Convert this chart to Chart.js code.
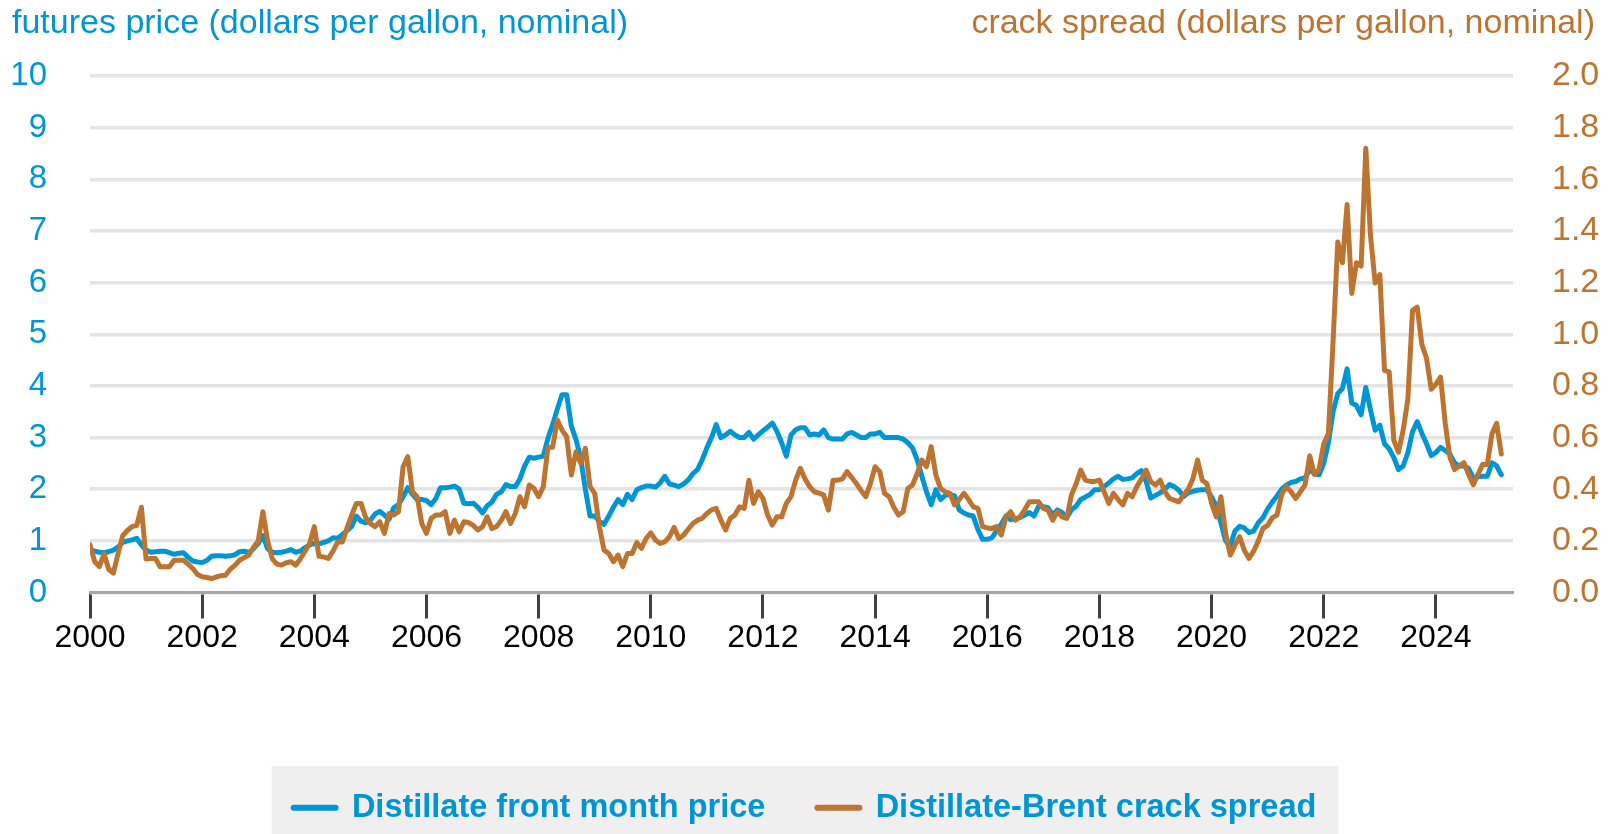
<!DOCTYPE html>
<html>
<head>
<meta charset="utf-8">
<title>Distillate price and crack spread</title>
<script src="https://cdn.jsdelivr.net/npm/chart.js@4.4.1/dist/chart.umd.min.js"></script>
<style>
  html, body { margin: 0; padding: 0; background: #fff; }
  #wrap { width: 1619px; height: 834px; }
</style>
</head>
<body>
<div id="wrap"><canvas id="chart" width="1619" height="834"></canvas></div>
<script>
// monthly values, Jan 2000 .. Mar 2025
const firstYear = 2000;

const frontMonthPrice = [
    0.83, 0.80, 0.78, 0.77, 0.79, 0.82, 0.88, 0.97, 1.00, 1.02, 1.05, 0.92, // 2000
    0.82, 0.78, 0.79, 0.80, 0.80, 0.77, 0.74, 0.76, 0.77, 0.68, 0.61, 0.59, // 2001
    0.58, 0.62, 0.70, 0.71, 0.71, 0.70, 0.71, 0.73, 0.79, 0.80, 0.77, 0.85, // 2002
    0.95, 1.10, 0.85, 0.78, 0.77, 0.78, 0.80, 0.83, 0.78, 0.80, 0.87, 0.92, // 2003
    0.95, 0.94, 0.97, 1.00, 1.06, 1.05, 1.12, 1.20, 1.28, 1.48, 1.38, 1.35, // 2004
    1.40, 1.52, 1.57, 1.50, 1.42, 1.64, 1.70, 1.85, 2.03, 1.90, 1.80, 1.80, // 2005
    1.78, 1.70, 1.82, 2.03, 2.03, 2.04, 2.06, 2.00, 1.73, 1.72, 1.73, 1.65, // 2006
    1.54, 1.68, 1.75, 1.90, 1.95, 2.09, 2.05, 2.05, 2.20, 2.45, 2.62, 2.60, // 2007
    2.62, 2.64, 2.99, 3.25, 3.55, 3.83, 3.83, 3.22, 2.96, 2.60, 2.00, 1.48, // 2008
    1.48, 1.38, 1.32, 1.48, 1.65, 1.80, 1.70, 1.90, 1.80, 1.99, 2.03, 2.06, // 2009
    2.06, 2.04, 2.12, 2.25, 2.10, 2.08, 2.05, 2.10, 2.18, 2.30, 2.38, 2.57, // 2010
    2.80, 3.00, 3.25, 3.00, 3.05, 3.12, 3.05, 3.00, 3.00, 3.10, 2.97, 3.05, // 2011
    3.13, 3.20, 3.28, 3.12, 2.90, 2.64, 3.05, 3.15, 3.19, 3.19, 3.05, 3.07, // 2012
    3.05, 3.15, 3.00, 2.97, 2.97, 2.97, 3.07, 3.10, 3.05, 3.00, 3.00, 3.07, // 2013
    3.07, 3.10, 3.00, 3.00, 3.00, 3.00, 2.97, 2.90, 2.80, 2.57, 2.25, 1.95, // 2014
    1.70, 1.99, 1.80, 1.88, 1.90, 1.87, 1.60, 1.54, 1.50, 1.48, 1.22, 1.03, // 2015
    1.03, 1.06, 1.20, 1.32, 1.48, 1.41, 1.43, 1.45, 1.50, 1.55, 1.48, 1.67, // 2016
    1.66, 1.64, 1.50, 1.60, 1.55, 1.45, 1.60, 1.67, 1.80, 1.85, 1.90, 1.99, // 2017
    1.99, 2.05, 2.12, 2.20, 2.25, 2.19, 2.20, 2.22, 2.30, 2.36, 2.15, 1.83, // 2018
    1.88, 1.93, 2.00, 2.09, 2.05, 1.98, 1.86, 1.93, 1.96, 1.98, 1.99, 1.99, // 2019
    1.85, 1.67, 1.35, 1.00, 0.90, 1.19, 1.28, 1.25, 1.16, 1.19, 1.35, 1.45, // 2020
    1.62, 1.75, 1.87, 2.00, 2.08, 2.13, 2.15, 2.20, 2.22, 2.38, 2.30, 2.28, // 2021
    2.50, 2.90, 3.50, 3.85, 3.95, 4.33, 3.67, 3.62, 3.44, 3.97, 3.54, 3.14, // 2022
    3.24, 2.88, 2.78, 2.61, 2.38, 2.45, 2.71, 3.11, 3.31, 3.08, 2.88, 2.65, // 2023
    2.71, 2.81, 2.75, 2.68, 2.51, 2.45, 2.45, 2.40, 2.22, 2.24, 2.25, 2.25, // 2024
    2.51, 2.45, 2.28                                                        // 2025
];

const crackSpread = [
    0.185, 0.120, 0.100, 0.150, 0.090, 0.075, 0.150, 0.220, 0.240, 0.255, 0.260, 0.330, // 2000
    0.130, 0.132, 0.132, 0.100, 0.100, 0.100, 0.125, 0.125, 0.125, 0.110, 0.093, 0.070, // 2001
    0.061, 0.058, 0.054, 0.060, 0.065, 0.067, 0.090, 0.105, 0.125, 0.135, 0.145, 0.175, // 2002
    0.200, 0.313, 0.200, 0.130, 0.110, 0.106, 0.115, 0.119, 0.106, 0.130, 0.160, 0.190, // 2003
    0.255, 0.140, 0.138, 0.132, 0.160, 0.196, 0.196, 0.250, 0.300, 0.345, 0.345, 0.290, // 2004
    0.267, 0.255, 0.274, 0.229, 0.306, 0.300, 0.313, 0.487, 0.526, 0.390, 0.371, 0.267, // 2005
    0.229, 0.287, 0.300, 0.300, 0.313, 0.229, 0.280, 0.235, 0.274, 0.271, 0.260, 0.242, // 2006
    0.255, 0.293, 0.248, 0.255, 0.280, 0.313, 0.267, 0.306, 0.371, 0.332, 0.416, 0.403, // 2007
    0.371, 0.410, 0.562, 0.562, 0.668, 0.629, 0.603, 0.455, 0.545, 0.500, 0.558, 0.410, // 2008
    0.384, 0.255, 0.164, 0.151, 0.119, 0.145, 0.100, 0.151, 0.151, 0.193, 0.171, 0.209, // 2009
    0.231, 0.203, 0.190, 0.196, 0.216, 0.252, 0.209, 0.222, 0.245, 0.267, 0.280, 0.287, // 2010
    0.306, 0.320, 0.326, 0.280, 0.242, 0.287, 0.300, 0.332, 0.326, 0.435, 0.345, 0.390, // 2011
    0.364, 0.300, 0.261, 0.293, 0.293, 0.345, 0.371, 0.435, 0.481, 0.440, 0.410, 0.390, // 2012
    0.385, 0.377, 0.319, 0.435, 0.435, 0.440, 0.468, 0.445, 0.422, 0.395, 0.371, 0.422, // 2013
    0.487, 0.468, 0.384, 0.371, 0.330, 0.300, 0.313, 0.403, 0.416, 0.460, 0.513, 0.487, // 2014
    0.565, 0.455, 0.403, 0.390, 0.384, 0.339, 0.360, 0.384, 0.360, 0.332, 0.326, 0.255, // 2015
    0.250, 0.248, 0.255, 0.222, 0.293, 0.313, 0.280, 0.293, 0.320, 0.351, 0.351, 0.351, // 2016
    0.326, 0.319, 0.280, 0.313, 0.293, 0.287, 0.377, 0.420, 0.474, 0.435, 0.430, 0.430, // 2017
    0.435, 0.390, 0.345, 0.384, 0.360, 0.339, 0.384, 0.371, 0.410, 0.440, 0.474, 0.429, // 2018
    0.416, 0.435, 0.390, 0.364, 0.358, 0.351, 0.377, 0.400, 0.440, 0.513, 0.435, 0.422, // 2019
    0.345, 0.293, 0.371, 0.229, 0.145, 0.183, 0.216, 0.164, 0.132, 0.160, 0.200, 0.248, // 2020
    0.260, 0.290, 0.300, 0.380, 0.410, 0.390, 0.364, 0.390, 0.417, 0.529, 0.457, 0.476, // 2021
    0.576, 0.615, 0.973, 1.357, 1.277, 1.502, 1.158, 1.277, 1.264, 1.720, 1.383, 1.198, // 2022
    1.231, 0.860, 0.854, 0.589, 0.543, 0.629, 0.748, 1.092, 1.105, 0.960, 0.907, 0.787, // 2023
    0.807, 0.834, 0.655, 0.523, 0.476, 0.490, 0.503, 0.457, 0.417, 0.457, 0.496, 0.496, // 2024
    0.615, 0.655, 0.536                                                                  // 2025
];

const xTickYears = [2000, 2002, 2004, 2006, 2008, 2010, 2012, 2014, 2016, 2018, 2020, 2022, 2024];
const priceTicks = [0, 1, 2, 3, 4, 5, 6, 7, 8, 9, 10];
const spreadTicks = [0, 0.2, 0.4, 0.6, 0.8, 1.0, 1.2, 1.4, 1.6, 1.8, 2.0];

const leftTitle = 'futures price (dollars per gallon, nominal)';
const rightTitle = 'crack spread (dollars per gallon, nominal)';

const BLUE = '#0096d6';
const ORANGE = '#bd7430';
const FONT = "'Liberation Sans', Arial, Helvetica, sans-serif";

Chart.defaults.font.family = FONT;

function toPoints(values) {
    return values.map((v, i) => ({ x: firstYear + i / 12, y: v }));
}

const axisTitles = {
    id: 'axisTitles',
    afterDraw(chart) {
        const ctx = chart.ctx;
        ctx.save();
        ctx.font = `34px ${FONT}`;
        ctx.textBaseline = 'alphabetic';
        ctx.textAlign = 'left';
        ctx.fillStyle = BLUE;
        ctx.fillText(leftTitle, 12, 33);
        ctx.textAlign = 'right';
        ctx.fillStyle = ORANGE;
        ctx.fillText(rightTitle, chart.width - 24, 33);
        ctx.restore();
    }
};

// grey panel behind the legend
const legendPanel = {
    id: 'legendPanel',
    beforeDraw(chart) {
        const lg = chart.legend;
        if (!lg || !lg.legendHitBoxes || !lg.legendHitBoxes.length) return;
        const boxes = lg.legendHitBoxes;
        const last = boxes[boxes.length - 1];
        const left = boxes[0].left - 22;
        const right = last.left + last.width + 22;
        const ctx = chart.ctx;
        ctx.save();
        ctx.fillStyle = '#efefef';
        ctx.fillRect(left, lg.bottom - 68, right - left, 68);
        ctx.restore();
    }
};

new Chart(document.getElementById('chart').getContext('2d'), {
    type: 'line',
    data: {
        datasets: [
            {
                label: 'Distillate front month price',
                data: toPoints(frontMonthPrice),
                yAxisID: 'yPrice',
                borderColor: BLUE,
                backgroundColor: BLUE,
                borderWidth: 5,
                pointRadius: 0,
                tension: 0,
                borderJoinStyle: 'round',
                borderCapStyle: 'round',
                order: 1
            },
            {
                label: 'Distillate-Brent crack spread',
                data: toPoints(crackSpread),
                yAxisID: 'ySpread',
                borderColor: ORANGE,
                backgroundColor: ORANGE,
                borderWidth: 5,
                pointRadius: 0,
                tension: 0,
                borderJoinStyle: 'round',
                borderCapStyle: 'round',
                order: 0
            }
        ]
    },
    options: {
        responsive: false,
        animation: false,
        events: [],
        layout: { padding: { top: 76, left: 0, right: 9, bottom: 0 } },
        scales: {
            x: {
                type: 'linear',
                min: 2000,
                max: 2025.375,
                afterBuildTicks: (scale) => { scale.ticks = xTickYears.map(v => ({ value: v })); },
                afterFit: (scale) => { scale.height = 147; },
                grid: { drawOnChartArea: false, drawTicks: true, tickLength: 26, tickColor: '#404040', tickWidth: 3 },
                border: { display: true, color: '#a6a6a6', width: 3 },
                ticks: {
                    color: '#000',
                    font: { size: 32 },
                    padding: 0,
                    maxRotation: 0,
                    autoSkip: false,
                    callback: (v) => String(v)
                }
            },
            yPrice: {
                position: 'left',
                min: 0,
                max: 10,
                afterBuildTicks: (scale) => { scale.ticks = priceTicks.map(v => ({ value: v })); },
                afterFit: (scale) => { scale.width = 90; },
                grid: { color: '#e4e4e4', lineWidth: 3.5, drawTicks: false },
                border: { display: false },
                ticks: { color: BLUE, font: { size: 33 }, padding: 43, callback: (v) => String(v) }
            },
            ySpread: {
                position: 'right',
                min: 0,
                max: 2,
                afterBuildTicks: (scale) => { scale.ticks = spreadTicks.map(v => ({ value: v })); },
                afterFit: (scale) => { scale.width = 97; },
                grid: { display: false, drawOnChartArea: false, drawTicks: false },
                border: { display: false },
                ticks: { color: ORANGE, font: { size: 34 }, padding: 39, callback: (v) => Number(v).toFixed(1) }
            }
        },
        plugins: {
            tooltip: { enabled: false },
            legend: {
                position: 'bottom',
                labels: {
                    usePointStyle: true,
                    pointStyle: 'line',
                    pointStyleWidth: 42,
                    padding: 52,
                    color: BLUE,
                    font: { size: 32.5, weight: 'bold' },
                    generateLabels: (chart) => chart.data.datasets.map((ds, i) => ({
                        text: ds.label,
                        datasetIndex: i,
                        fontColor: BLUE,
                        strokeStyle: ds.borderColor,
                        fillStyle: ds.borderColor,
                        lineWidth: 6,
                        lineCap: 'round',
                        pointStyle: 'line',
                        hidden: false
                    }))
                }
            }
        }
    },
    plugins: [legendPanel, axisTitles]
});
</script>
</body>
</html>
